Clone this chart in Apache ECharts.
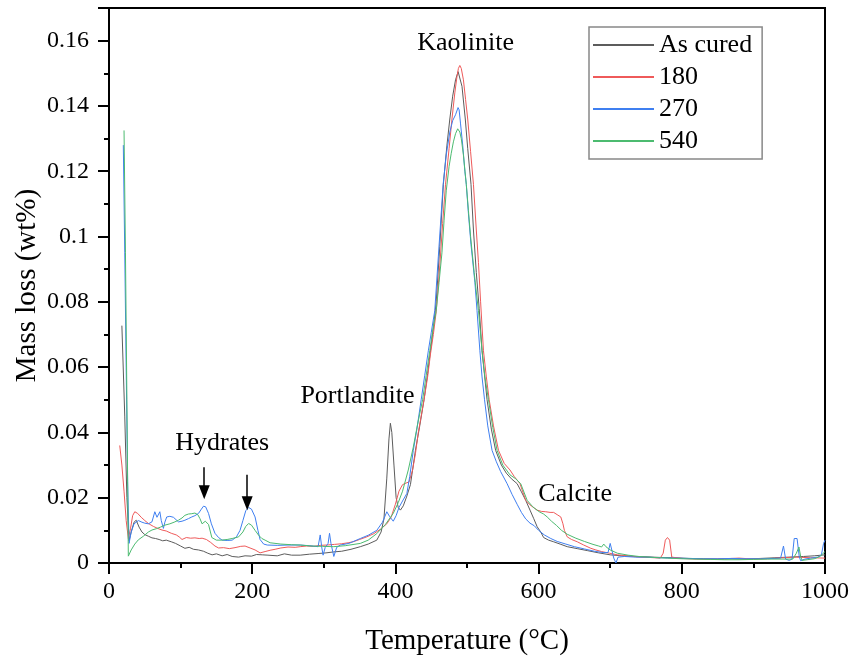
<!DOCTYPE html>
<html>
<head>
<meta charset="utf-8">
<script src="https://cdn.jsdelivr.net/npm/echarts@6/dist/echarts.min.js"></script>
<style>
  html, body { margin: 0; padding: 0; background: #fff; }
  #chart { width: 850px; height: 657px; }
</style>
</head>
<body>
<div id="chart"></div>
<script>
// [temperature °C, mass loss wt%]
const asCured = [[18,0.0727],[22,0.045],[25,0.020],[28,0.0068],[31,0.0095],[35,0.0125],[38,0.0131],[42,0.011],[46,0.0095],[50,0.0087],[55,0.0082],[60,0.0077],[65,0.0075],[70,0.0072],[75,0.0068],[80,0.0070],[87,0.0065],[93,0.0060],[100,0.0052],[106,0.0045],[112,0.0048],[118,0.0042],[125,0.0040],[132,0.0036],[138,0.0030],[144,0.0025],[150,0.0028],[158,0.0022],[165,0.0026],[172,0.0020],[181,0.0018],[190,0.0022],[199,0.0021],[206,0.0026],[214,0.0025],[222,0.0024],[235,0.0022],[245,0.0028],[255,0.0024],[267,0.0024],[280,0.0027],[292,0.0029],[303,0.0031],[314,0.0034],[325,0.0036],[338,0.0042],[351,0.0050],[362,0.0058],[374,0.0070],[380,0.0095],[384,0.0135],[388,0.026],[391,0.038],[393,0.0428],[395,0.040],[398,0.030],[401,0.020],[404,0.017],[407,0.0162],[411,0.0175],[416,0.0205],[421,0.0240],[428,0.0345],[434,0.042],[440,0.050],[445,0.058],[449,0.065],[453,0.072],[457,0.080],[462,0.097],[467,0.116],[472,0.128],[476,0.136],[480,0.143],[484,0.148],[487.6,0.1505],[490,0.1500],[493,0.146],[497.6,0.136],[501,0.127],[505.6,0.116],[509,0.102],[513,0.089],[517,0.078],[521,0.065],[528,0.050],[534,0.041],[540,0.0345],[548,0.030],[555,0.0275],[562,0.0258],[570,0.0243],[576,0.0218],[582,0.0192],[588,0.0162],[593,0.0137],[598,0.0111],[603,0.0095],[607,0.0078],[614,0.0070],[621,0.0065],[630,0.0058],[640,0.0050],[654,0.0044],[668,0.0038],[684,0.0031],[700,0.0025],[716,0.0022],[733,0.0020],[750,0.0019],[770,0.0017],[790,0.0016],[810,0.0014],[830,0.0013],[850,0.0012],[870,0.0013],[890,0.0012],[910,0.0014],[930,0.0016],[950,0.0018],[970,0.0020],[985,0.0022],[1000,0.0025]];

const s180 = [[15,0.036],[18,0.030],[21,0.022],[24,0.013],[27,0.0075],[30,0.0105],[33,0.0145],[36,0.0157],[40,0.0152],[45,0.0140],[50,0.0130],[55,0.0121],[62,0.0112],[68,0.0106],[74,0.0101],[80,0.0098],[87,0.0091],[94,0.0086],[98,0.0080],[102,0.0072],[108,0.0078],[114,0.0076],[120,0.0077],[126,0.0075],[130,0.0076],[136,0.0072],[142,0.0063],[148,0.0052],[153,0.0046],[160,0.0047],[168,0.0044],[176,0.0047],[184,0.0051],[190,0.0052],[197,0.0046],[204,0.0040],[211,0.0031],[218,0.0035],[225,0.0039],[232,0.0042],[240,0.0046],[250,0.0049],[260,0.0048],[267,0.0050],[276,0.0052],[286,0.0051],[295,0.0054],[304,0.0055],[315,0.0057],[325,0.0059],[334,0.0062],[341,0.0065],[350,0.0072],[360,0.0080],[370,0.0090],[380,0.0105],[388,0.0120],[394,0.0140],[400,0.0180],[405,0.0220],[410,0.0240],[415,0.0245],[419,0.0248],[424,0.0285],[428,0.0335],[432,0.040],[436,0.045],[440,0.050],[445,0.057],[449,0.064],[453,0.070],[457,0.077],[462,0.091],[466,0.104],[470,0.116],[475,0.127],[479,0.136],[483,0.144],[486,0.149],[488,0.1515],[490,0.1524],[492,0.1515],[495,0.148],[498,0.142],[501,0.136],[505,0.126],[509,0.116],[513,0.102],[516,0.092],[519,0.080],[523,0.065],[527,0.057],[531,0.050],[537,0.042],[544,0.0345],[552,0.0305],[560,0.0285],[566,0.0265],[574,0.0243],[582,0.0192],[588,0.0178],[594,0.0168],[598,0.0162],[604,0.0158],[610,0.0157],[616,0.0155],[621,0.0155],[626,0.0148],[631,0.0141],[634,0.0120],[636,0.0100],[640,0.0080],[646,0.0072],[654,0.0065],[663,0.0055],[673,0.0045],[680,0.0040],[688,0.0035],[699,0.0030],[710,0.0025],[725,0.0022],[740,0.0018],[755,0.0017],[770,0.0015],[774,0.0030],[777,0.0070],[780,0.0078],[783,0.0070],[786,0.0018],[800,0.0014],[820,0.0012],[840,0.0012],[860,0.0013],[880,0.0015],[900,0.0012],[920,0.0013],[940,0.0016],[960,0.0018],[980,0.0016],[1000,0.0015]];

const s270 = [[20,0.128],[22,0.095],[24,0.060],[26,0.025],[28,0.0060],[31,0.0095],[35,0.0120],[41,0.0130],[46,0.0125],[50,0.0122],[55,0.0120],[60,0.0126],[64,0.0157],[67,0.0140],[69,0.0141],[71,0.0157],[73,0.0130],[76,0.0106],[78,0.0125],[80.6,0.0141],[85,0.0143],[90,0.0140],[97,0.0126],[102,0.0128],[106,0.0131],[111,0.0136],[115.6,0.0141],[120,0.0145],[125,0.0152],[129,0.0165],[132,0.0174],[135,0.0172],[139,0.0152],[143,0.0120],[148,0.0091],[153,0.0078],[158,0.0070],[165,0.0069],[172,0.0070],[178,0.0080],[183,0.0100],[187,0.0130],[191,0.0160],[195,0.0170],[199,0.0165],[204,0.0141],[208,0.0100],[211,0.0072],[216,0.0058],[221,0.0055],[235,0.0054],[250,0.0055],[267,0.0055],[280,0.0053],[292,0.0050],[295,0.0086],[297,0.0050],[299,0.0024],[302,0.0048],[306,0.0060],[308,0.0091],[310,0.0060],[314,0.0020],[318,0.0048],[323,0.0055],[335,0.0060],[351,0.0075],[362,0.0085],[374,0.0100],[382,0.0125],[388,0.0157],[392,0.0142],[397,0.0128],[401,0.0145],[405,0.0170],[410,0.0190],[416,0.0213],[420,0.0265],[425,0.0345],[430,0.0410],[436,0.0500],[441,0.0575],[446,0.0650],[450,0.0705],[455,0.0773],[460,0.0940],[466.7,0.116],[471,0.125],[476,0.132],[480,0.1355],[484,0.1373],[486,0.1375],[487.5,0.1395],[489,0.1388],[491,0.1345],[494,0.128],[497,0.120],[499,0.116],[502,0.107],[505.6,0.0975],[508,0.0925],[511,0.0860],[514,0.0773],[518,0.0650],[521,0.0570],[524.5,0.050],[529,0.0420],[535,0.0345],[541,0.0310],[547,0.0280],[556,0.0243],[563,0.0210],[570,0.0180],[576,0.0155],[582,0.0135],[588,0.0122],[594,0.0114],[600,0.0100],[608,0.0086],[617,0.0075],[626,0.0066],[638,0.0058],[650,0.0050],[664,0.0043],[678,0.0036],[690,0.0032],[697,0.0032],[700,0.0060],[702,0.0055],[705,0.0015],[708,0.0000],[711,0.0018],[720,0.0020],[735,0.0018],[750,0.0018],[770,0.0016],[790,0.0015],[810,0.0014],[830,0.0013],[850,0.0013],[870,0.0014],[890,0.0013],[910,0.0013],[930,0.0014],[938,0.0015],[942,0.0052],[945,0.0012],[950,0.0008],[954,0.0012],[957,0.0075],[961,0.0075],[964,0.0020],[966,0.0007],[972,0.0012],[980,0.0015],[990,0.0018],[995,0.0025],[998,0.0060],[1000,0.0070]];

const s540 = [[21,0.1325],[23,0.095],[25,0.050],[27,0.0021],[31,0.0040],[36,0.0058],[41,0.0071],[48,0.0082],[55,0.0095],[60,0.0101],[66,0.0105],[72,0.0110],[78,0.0116],[85,0.0120],[91,0.0125],[97,0.0131],[102,0.0138],[106,0.0146],[111,0.0150],[115.6,0.0151],[120,0.0153],[124,0.0148],[127,0.0136],[130,0.0120],[132,0.0116],[134.5,0.0128],[136.4,0.0131],[139,0.0118],[143.6,0.0078],[150,0.0070],[157.6,0.0070],[165,0.0072],[172,0.0075],[181,0.0080],[187,0.0095],[191,0.0112],[195,0.0121],[199,0.0116],[204,0.0100],[209,0.0085],[213.5,0.0075],[218,0.0070],[225,0.0062],[240,0.0058],[255,0.0056],[267,0.0055],[282,0.0052],[298,0.0051],[314,0.0050],[330,0.0053],[351,0.0060],[362,0.0070],[374,0.0090],[386,0.0118],[397,0.0152],[404,0.0185],[410,0.0220],[418,0.0285],[425,0.0355],[431,0.0425],[438,0.0500],[443,0.0575],[448,0.0650],[452,0.0710],[457,0.0773],[461,0.0860],[465,0.0950],[468,0.1050],[471,0.1140],[475,0.1215],[478,0.1255],[481,0.1290],[484,0.1315],[487,0.1330],[490,0.1320],[492,0.1300],[495,0.1250],[499,0.1160],[502,0.1080],[505,0.1000],[510,0.0890],[513,0.0830],[516,0.0773],[521,0.0650],[525,0.0570],[530,0.0500],[536,0.0415],[542,0.0345],[550,0.0300],[560,0.0270],[568,0.0258],[575,0.0243],[584,0.0192],[592,0.0172],[600,0.0158],[607,0.0150],[612,0.0141],[618,0.0128],[625,0.0115],[632,0.0100],[640,0.0088],[652,0.0076],[664,0.0066],[676,0.0057],[684,0.0052],[688,0.0049],[691,0.0058],[694,0.0050],[700,0.0040],[710,0.0030],[725,0.0024],[740,0.0020],[760,0.0017],[780,0.0015],[800,0.0013],[820,0.0012],[840,0.0011],[860,0.0010],[880,0.0010],[900,0.0011],[920,0.0012],[940,0.0012],[955,0.0012],[960,0.0030],[963.6,0.0049],[966,0.0020],[968,0.0008],[975,0.0010],[985,0.0013],[993,0.0020],[1000,0.0035]];

const seriesNames = ['As cured', '180', '270', '540'];
const seriesColors = ['#5c5c5c', '#ef5a5a', '#3f7ff0', '#4cbb70'];
const seriesData = [asCured, s180, s270, s540];

// peak labels: [temperature, mass loss, text]
const notes = [[498, 0.1591, 'Kaolinite'], [347, 0.051, 'Portlandite'], [158, 0.0366, 'Hydrates'], [651, 0.0211, 'Calcite']];
// hydrate arrows: [temperature, from, to]
const arrows = [[133, 0.0293, 0.0217], [193, 0.0270, 0.0183]];

const font = 'Liberation Serif';

const chart = echarts.init(document.getElementById('chart'), null, { renderer: 'canvas' });

const lineSeries = seriesNames.map((name, i) => ({
  name: name,
  type: 'line',
  data: seriesData[i],
  showSymbol: false,
  symbol: 'none',
  color: seriesColors[i],
  lineStyle: { width: 1, color: seriesColors[i] },
  animation: false,
}));

chart.setOption({
  animation: false,
  backgroundColor: '#fff',
  grid: {
    left: 109, right: 25, top: 8, bottom: 94,
    show: true, borderColor: '#000', borderWidth: 2,
    outerBoundsMode: 'none',
  },
  legend: {
    data: seriesNames,
    orient: 'vertical',
    left: 589,
    top: 27,
    padding: [5, 10, 5, 4],
    itemGap: 6,
    itemWidth: 61,
    itemHeight: 2,
    icon: 'rect',
    borderColor: '#888',
    borderWidth: 1.5,
    textStyle: { fontFamily: font, fontSize: 26, color: '#000' },
  },
  xAxis: {
    type: 'value',
    min: 0, max: 1000, interval: 200,
    name: 'Temperature (°C)',
    nameLocation: 'middle',
    nameGap: 64,
    nameMoveOverlap: false,
    nameTextStyle: { fontFamily: font, fontSize: 29, color: '#000' },
    axisLine: { show: true, lineStyle: { color: '#000', width: 2 } },
    axisTick: { show: true, length: 11, lineStyle: { color: '#000', width: 2 } },
    minorTick: { show: true, splitNumber: 2, length: 5, lineStyle: { color: '#000', width: 2 } },
    splitLine: { show: false },
    axisLabel: { fontFamily: font, fontSize: 24, color: '#000', margin: 17, formatter: (v) => String(v) },
  },
  yAxis: {
    type: 'value',
    min: 0, max: 0.17, interval: 0.02,
    name: 'Mass loss (wt%)',
    nameLocation: 'middle',
    nameGap: 67,
    nameMoveOverlap: false,
    nameTextStyle: { fontFamily: font, fontSize: 29, color: '#000' },
    axisLine: { show: true, lineStyle: { color: '#000', width: 2 } },
    axisTick: { show: true, length: 11, lineStyle: { color: '#000', width: 2 } },
    minorTick: { show: true, splitNumber: 2, length: 5, lineStyle: { color: '#000', width: 2 } },
    splitLine: { show: false },
    axisLabel: { fontFamily: font, fontSize: 24, color: '#000', margin: 20, showMaxLabel: false },
  },
  series: lineSeries.concat([
    {
      name: 'notes',
      type: 'scatter',
      data: notes,
      symbolSize: 0,
      silent: true,
      itemStyle: { opacity: 1 },
      label: {
        show: true,
        position: 'inside',
        formatter: (p) => p.value[2],
        fontFamily: font,
        fontSize: 26,
        color: '#000',
        opacity: 1,
        textBorderWidth: 0,
      },
      markLine: {
        silent: true,
        symbol: ['none', 'triangle'],
        symbolSize: [11, 14],
        symbolRotate: 180,
        label: { show: false },
        lineStyle: { color: '#000', width: 1.5, type: 'solid', opacity: 1 },
        data: arrows.map((a) => [{ coord: [a[0], a[1]] }, { coord: [a[0], a[2]] }]),
      },
    },
  ]),
});
</script>
</body>
</html>
